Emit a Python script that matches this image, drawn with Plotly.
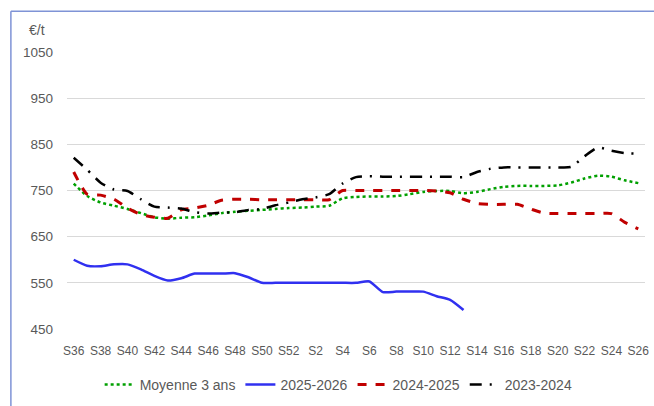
import plotly.graph_objects as go

weeks = [f"S{i}" for i in range(36, 53)] + [f"S{i}" for i in range(1, 27)]

moyenne_3_ans = [765, 738, 724, 717, 710, 701, 692, 689, 691, 692, 696, 701, 704, 706,
                 708, 710, 712, 713, 715, 717, 733, 736, 737, 737, 738, 742, 747, 749,
                 749, 744, 747, 753, 758, 760, 760, 760, 761, 767, 776, 782, 780, 772, 766]

s2025_2026 = [600, 587, 586, 590, 590, 579, 565, 555, 560, 570, 570, 570, 571, 562,
              550, 550, 550, 550, 550, 550, 550, 550, 553, 530, 531, 531, 531, 521, 513, 491]

s2024_2025 = [790, 742, 740, 731, 712, 698, 692, 690, 708, 712, 718, 729, 731, 731,
              730, 730, 730, 730, 730, 730, 750, 750, 750, 750, 750, 750, 750, 749,
              745, 731, 722, 720, 720, 720, 710, 701, 700, 700, 700, 700, 700, 681, 667]

s2023_2024 = [821, 795, 767, 752, 749, 731, 715, 713, 711, 703, 700, 702, 703, 708,
              710, 718, 724, 731, 735, 742, 765, 779, 781, 780, 780, 780, 780, 780,
              780, 779, 790, 797, 800, 800, 800, 800, 800, 801, 824, 843, 836, 831, 830]

y_ticks = [450, 550, 650, 750, 850, 950, 1050]
x_tick_labels = weeks[::2]

FONT = "Liberation Sans"
GREY = "#595959"

fig = go.Figure()
fig.add_trace(go.Scatter(x=weeks, y=moyenne_3_ans, name="Moyenne 3 ans", mode="lines",
                         line=dict(color="#00A000", width=2.5, dash="dot", shape="spline", smoothing=0.6)))
fig.add_trace(go.Scatter(x=weeks[:len(s2025_2026)], y=s2025_2026, name="2025-2026", mode="lines",
                         line=dict(color="#3030F0", width=2.5, shape="spline", smoothing=0.6)))
fig.add_trace(go.Scatter(x=weeks, y=s2024_2025, name="2024-2025", mode="lines",
                         line=dict(color="#C00000", width=3, dash="dash", shape="spline", smoothing=0.6)))
fig.add_trace(go.Scatter(x=weeks, y=s2023_2024, name="2023-2024", mode="lines",
                         line=dict(color="#000000", width=2.5, dash="12px,8px,2px,8px", shape="spline", smoothing=0.6)))

fig.update_layout(
    width=654, height=406,
    margin=dict(l=67, r=5, t=52, b=73),
    paper_bgcolor="white", plot_bgcolor="white",
    font=dict(family=FONT, size=12, color=GREY),
    showlegend=True,
    legend=dict(orientation="h", x=0.47, xanchor="center", y=(333.3 - 390) / 281, yanchor="middle",
                font=dict(family=FONT, size=14, color=GREY), itemwidth=30,
                tracegroupgap=0),
    xaxis=dict(type="category", categoryorder="array", categoryarray=weeks,
               tickmode="array", tickvals=x_tick_labels, ticktext=x_tick_labels,
               showgrid=False, showline=False, zeroline=False, ticks="",
               tickfont=dict(family=FONT, size=12, color=GREY), ticklabelstandoff=13,
               range=[-0.5, len(weeks) - 0.5]),
    yaxis=dict(range=[450, 1050], tickvals=y_ticks, showgrid=True, gridcolor="#D9D9D9",
               gridwidth=1, zeroline=False, showline=False, ticks="",
               tickfont=dict(family=FONT, size=13.5, color=GREY), ticklabelstandoff=13),
    annotations=[dict(text="€/t", xref="paper", yref="paper",
                      x=(37 - 67) / 582, y=(333.3 - 30) / 281, xanchor="center", yanchor="middle",
                      showarrow=False, font=dict(family=FONT, size=14, color=GREY))],
    shapes=[
        dict(type="line", xref="paper", yref="paper", x0=(10.5 - 67) / 582, x1=(660 - 67) / 582,
             y0=(333.3 - 11) / 281, y1=(333.3 - 11) / 281, line=dict(color="#7F93D6", width=1.5)),
        dict(type="line", xref="paper", yref="paper", x0=(10.5 - 67) / 582, x1=(10.5 - 67) / 582,
             y0=(333.3 - 11) / 281, y1=(333.3 - 412) / 281, line=dict(color="#7F93D6", width=1.5)),
    ],
)

fig.write_html("out.html", config={"displayModeBar": False},
               post_script="document.body.style.margin='0';document.body.style.overflow='hidden';")
